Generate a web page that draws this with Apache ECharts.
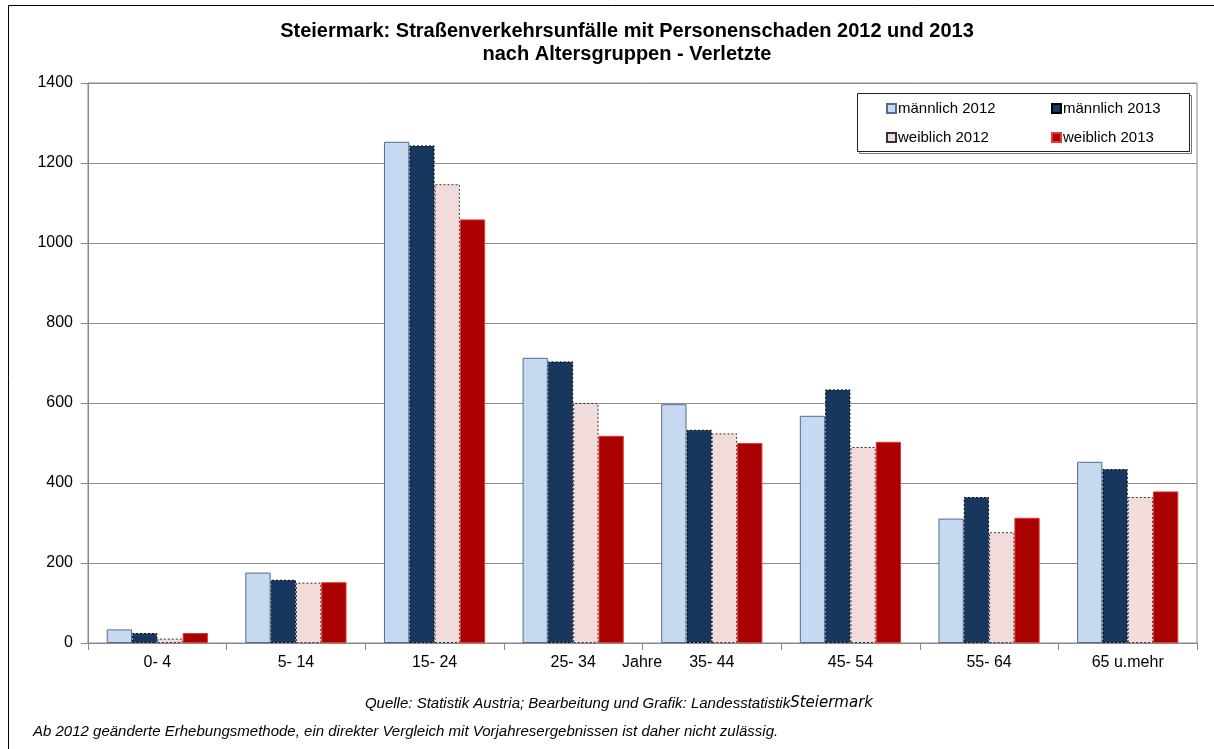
<!DOCTYPE html>
<html><head><meta charset="utf-8">
<script src="https://cdn.jsdelivr.net/npm/echarts@6/dist/echarts.min.js"></script>
<style>html,body{margin:0;padding:0;background:#fff}#c{width:1214px;height:749px}</style>
</head><body><div id="c"></div>
<script>
var categories = ['0- 4', '5- 14', '15- 24', '25- 34', '35- 44', '45- 54', '55- 64', '65 u.mehr'];
var maennlich2012 = [34, 176, 1253, 713, 597, 568, 311, 453];
var maennlich2013 = [25, 158, 1244, 704, 533, 634, 365, 435];
var weiblich2012 = [11, 151, 1147, 600, 524, 490, 277, 365];
var weiblich2013 = [25, 152, 1059, 518, 500, 503, 313, 379];
var yTicks = [0, 200, 400, 600, 800, 1000, 1200, 1400];

var FONT = '"Liberation Sans", Arial, sans-serif';
var styles = {
  'männlich 2012': {color: '#C6D9F1', borderColor: '#4F6D96', borderWidth: 1, borderType: 'solid'},
  'männlich 2013': {color: '#17375E', borderColor: '#000000', borderWidth: 1, borderType: [2, 2]},
  'weiblich 2012': {color: '#F2DCDB', borderColor: '#333333', borderWidth: 1, borderType: [2, 2]},
  'weiblich 2013': {color: '#AA0000', borderColor: '#E03A3A', borderWidth: 1, borderType: 'solid'}
};
var names = ['männlich 2012', 'männlich 2013', 'weiblich 2012', 'weiblich 2013'];
var datas = [maennlich2012, maennlich2013, weiblich2012, weiblich2013];
var legendPos = [[886, 101], [1051, 101], [886, 130], [1051, 130]];

var chart = echarts.init(document.getElementById('c'), null, {renderer: 'canvas'});
var option = {
  animation: false,
  backgroundColor: '#fff',
  textStyle: {fontFamily: FONT},
  title: {
    text: 'Steiermark: Straßenverkehrsunfälle mit Personenschaden 2012 und 2013\nnach Altersgruppen - Verletzte',
    left: 622, top: 15, textAlign: 'center',
    textStyle: {fontFamily: FONT, fontSize: 20, fontWeight: 'bold', color: '#000', lineHeight: 23}
  },
  legend: names.map(function (n, i) {
    return {
      data: [n], left: legendPos[i][0], top: legendPos[i][1],
      itemWidth: 9, itemHeight: 9, icon: 'rect', padding: 0,
      textStyle: {fontFamily: FONT, fontSize: 15, color: '#000', padding: [0, 0, 0, -3]},
      itemStyle: {borderType: 'solid'}
    };
  }),
  grid: {left: 88, right: 17, top: 83, bottom: 106, show: true, borderColor: '#888', borderWidth: 1, containLabel: false},
  xAxis: {
    type: 'category', data: categories,
    axisLine: {lineStyle: {color: '#888', width: 1}},
    axisTick: {show: true, alignWithLabel: false, length: 7, lineStyle: {color: '#888'}},
    axisLabel: {fontFamily: FONT, fontSize: 16, color: '#000', margin: 12}
  },
  yAxis: {
    type: 'value', min: 0, max: 1400, interval: 200,
    axisLine: {show: true, lineStyle: {color: '#888'}},
    axisTick: {show: true, length: 7, lineStyle: {color: '#888'}},
    axisLabel: {fontFamily: FONT, fontSize: 16, color: '#000', margin: 15,
      formatter: function (v) { return yTicks.indexOf(v) >= 0 ? String(v) : ''; }},
    splitLine: {lineStyle: {color: '#8c8c8c', width: 1}}
  },
  series: names.map(function (n, i) {
    return {
      name: n, type: 'bar', data: datas[i],
      barGap: '0%', barCategoryGap: '27%',
      itemStyle: styles[n]
    };
  }),
  graphic: [
    {type: 'rect', shape: {x: 8.5, y: 5.5, width: 1230, height: 780}, style: {fill: 'none', stroke: '#000', lineWidth: 1}, silent: true, z: 100},
    {type: 'rect', shape: {x: 859.5, y: 95.5, width: 332, height: 58}, style: {fill: 'rgba(0,0,0,0)', stroke: '#777', lineWidth: 1}, z: 0},
    {type: 'rect', shape: {x: 857.5, y: 93.5, width: 332, height: 58}, style: {fill: '#fff', stroke: '#222', lineWidth: 1}, z: 1},
    {type: 'text', left: 622, top: 655, style: {text: 'Jahre', font: '16px ' + FONT, fill: '#000'}},
    {type: 'text', right: 1214 - 873, top: 696, style: {
      rich: {a: {fontFamily: FONT, fontStyle: 'italic', fontSize: 15, fill: '#000'}, b: {fontFamily: '"DejaVu Sans", sans-serif', fontStyle: 'italic', fontSize: 15, fill: '#000'}},
      text: '{a|Quelle: Statistik Austria; Bearbeitung und Grafik: Landesstatistik}{b|Steiermark}'}},
    {type: 'text', left: 33, top: 724, style: {text: 'Ab 2012 geänderte Erhebungsmethode, ein direkter Vergleich mit Vorjahresergebnissen ist daher nicht zulässig.', font: 'italic 15px ' + FONT, fill: '#000'}}
  ]
};
chart.setOption(option);
</script></body></html>
